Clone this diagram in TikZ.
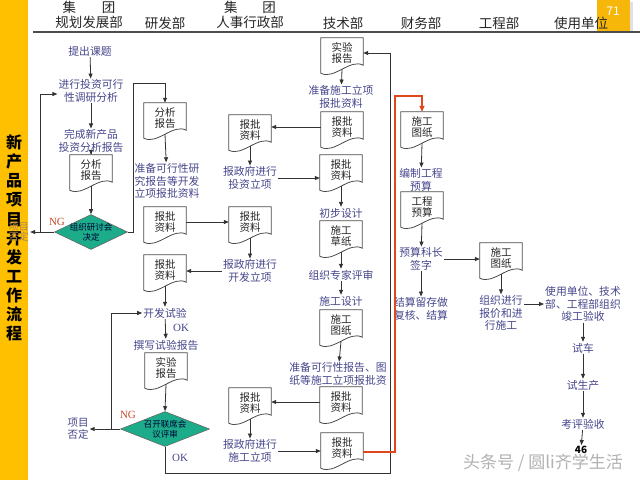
\documentclass[tikz,border=0pt]{standalone}
\usepackage{fontspec}
\setmainfont{Noto Sans CJK SC}
\newfontfamily\serfont{Liberation Serif}
\usetikzlibrary{arrows.meta,shapes.geometric,calc}
\definecolor{barY}{RGB}{255,192,0}
\definecolor{tabY}{RGB}{246,182,10}
\definecolor{txt}{RGB}{70,70,140}
\definecolor{dteal}{RGB}{28,172,138}
\definecolor{redl}{RGB}{222,72,28}
\definecolor{ngc}{RGB}{200,70,40}
\definecolor{nocol}{RGB}{175,135,80}
\newcommand\wavedoc[1]{\draw[docline] (#1.north west) -- (#1.north east) -- ([yshift=3pt]#1.south east) .. controls ([xshift=8pt,yshift=10pt]#1.south) and ([xshift=-8pt,yshift=-12pt]#1.south) .. ([yshift=-5pt]#1.south west) -- cycle;}
\begin{document}
\begin{tikzpicture}[x=1pt,y=-1pt,
 t/.style={text=txt, font=\fontsize{10.8}{12.5}\selectfont, align=center, inner sep=1pt},
 doc/.style={rectangle, minimum width=42pt, minimum height=30pt, inner sep=0pt, align=center, font=\fontsize{10.5}{11.5}\selectfont, text=black!85},
 docline/.style={draw=black!70, line width=0.8pt},
 arr/.style={draw=black!80, line width=0.8pt, -{Triangle[length=5pt,width=4pt]}},
 redarr/.style={draw=redl, line width=2pt, -{Triangle[length=6pt,width=5pt]}},
 dmd/.style={diamond, inner sep=0pt, fill=dteal, draw=black!60, line width=0.6pt},
 dtx/.style={font=\fontsize{8.5}{10}\selectfont, text=black!80!blue, align=center, inner sep=0pt},
 hd/.style={font=\fontsize{13.5}{15.5}\selectfont, text=black!85, align=center, inner sep=0pt},
 lab/.style={font=\serfont\fontsize{11}{12}\selectfont, inner sep=0pt},
]
\useasboundingbox (0,0) rectangle (640,480);
\fill[white] (0,0) rectangle (640,480);
% left bar and tab
\fill[barY] (0,0) rectangle (28,480);
\fill[black!12] (630,2) rectangle (633,33);
\fill[tabY] (597,0) rectangle (630,31);
\node[text=white, font=\fontsize{12}{12}\selectfont, inner sep=0] (pg) at (613,11) {71};
\node[font=\bfseries\fontsize{16}{19.1}\selectfont, align=center, inner sep=0] (title) at (14,238) {新\\产\\品\\项\\目\\开\\发\\工\\作\\流\\程};
% header
\node[hd] (H1) at (89,15) {集\hspace{26pt}团\\规划发展部};
\node[hd] (H2) at (165,23) {研发部};
\node[hd] (H3) at (250,15) {集\hspace{25pt}团\\人事行政部};
\node[hd] (H4) at (343,23) {技术部};
\node[hd] (H5) at (421,23) {财务部};
\node[hd] (H6) at (499,23) {工程部};
\node[hd] (H7) at (581,23) {使用单位};
\draw[black!70, line width=1.2pt] (33,32) -- (640,32);
% column A
\node[t] (A1) at (90,51) {提出课题};
\node[t] (A2) at (91,91) {进行投资可行\\性调研分析};
\node[t] (A3) at (91,141) {完成新产品\\投资分析报告};
\node[doc] (A4) at (91,170) {分析\\报告};
\node[dmd, minimum width=73pt, minimum height=35pt, label={[dtx]center:{组织研讨会\\决定}}] (A5) at (91,232) {};
\node[lab, text=ngc] (NG1) at (57,222) {NG};
\node[text=nocol, font=\fontsize{10}{10.5}\selectfont, align=center, inner sep=1pt] (N1) at (19,232) {项目\\否定};
% column B
\node[doc] (B1) at (165,118) {分析\\报告};
\node[t] (B2) at (167,181) {准备可行性研\\究报告等开发\\立项报批资料};
\node[doc] (B3) at (165,222) {报批\\资料};
\node[doc] (B4) at (165,270) {报批\\资料};
\node[t] (B5) at (165,313) {开发试验};
\node[lab, text=txt] (OK1) at (181,328) {OK};
\node[t] (B6) at (166,345) {撰写试验报告};
\node[doc] (B7) at (166,368) {实验\\报告};
\node[dmd, minimum width=89pt, minimum height=35pt, label={[dtx]center:{召开联席会\\议评审}}] (B8) at (165,429) {};
\node[lab, text=ngc] (NG2) at (128,415) {NG};
\node[t, font=\fontsize{10.5}{12}\selectfont] (N2) at (78,429) {项目\\否定};
\node[lab, text=txt] (OK2) at (180,458) {OK};
% column C
\node[doc] (C1) at (250,130) {报批\\资料};
\node[t] (C2) at (250,178) {报政府进行\\投资立项};
\node[doc] (C3) at (250,222) {报批\\资料};
\node[t] (C4) at (250,271) {报政府进行\\开发立项};
\node[doc] (C5) at (250,403) {报批\\资料};
\node[t] (C6) at (250,451) {报政府进行\\施工立项};
% column D
\node[doc] (D1) at (342,53) {实验\\报告};
\node[t] (D2) at (341,97) {准备施工立项\\报批资料};
\node[doc] (D3) at (342,127) {报批\\资料};
\node[doc] (D4) at (341,170) {报批\\资料};
\node[t] (D5) at (341,213) {初步设计};
\node[doc] (D6) at (341,236) {施工\\草纸};
\node[t] (D7) at (341,275) {组织专家评审};
\node[t] (D8) at (341,301) {施工设计};
\node[doc] (D9) at (341,325) {施工\\图纸};
\node[t] (D10) at (338,374) {准备可行性报告、图\\纸等施工立项报批资};
\node[doc] (D11) at (341,402) {报批\\资料};
\node[doc] (D12) at (342,448) {报批\\资料};
% column E
\node[doc] (E1) at (422,127) {施工\\图纸};
\node[t] (E2) at (421,180) {编制工程\\预算};
\node[doc] (E3) at (422,207) {工程\\预算};
\node[t] (E4) at (421,259) {预算科长\\签字};
\node[t] (E5) at (421,309) {结算留存做\\复核、结算};
% column F
\node[doc] (F1) at (501,258) {施工\\图纸};
\node[t] (F2) at (501,313) {组织进行\\报价和进\\行施工};
% column G
\node[t] (G1) at (583,304) {使用单位、技术\\部、工程部组织\\竣工验收};
\node[t] (G2) at (583,348) {试车};
\node[t] (G3) at (583,385) {试生产};
\node[t] (G4) at (583,424) {考评验收};
\node[font=\bfseries\fontsize{10}{10}\selectfont, inner sep=1pt] (N46) at (581,450) {46};
% document outlines
\foreach \d in {A4,B1,B3,B4,B7,C1,C3,C5,D1,D3,D4,D6,D9,D11,D12,E1,E3,F1} {\wavedoc{\d}}
% junctions
\coordinate (j1) at (40,232);
\coordinate (j2) at (133,83);
\coordinate (j3) at (111,429);
\coordinate (j4) at (390,473);
\coordinate (j5) at (395,96);
% connectors
\draw[arr] (A1) -- (A2);
\draw[arr] (A2) -- (A3);
\draw[arr] (A3) -- (A4);
\draw[arr] ([yshift=-1pt]A4.south) -- (A5.north);
\draw[arr] (A5.west) -- (N1.east);
\draw[arr] (j1) |- ([yshift=-3pt]A2.west);
\draw[arr] (A5.east) -| (j2) -| (B1.north);
\draw[arr] ([yshift=-1pt]B1.south) -- (B2);
\draw[arr] (B3) -- (C3);
\draw[arr] ([yshift=-1pt]C3.south) -- (C4);
\draw[arr] (C4.west) -- (C4.west -| B4.east);
\draw[arr] ([yshift=-1pt]B4.south) -- (B5);
\draw[arr] (B5) -- (B6);
\draw[arr] ([yshift=-1pt]B7.south) -- (B8.north);
\draw[arr] (B8.west) -- (N2.east);
\draw[arr] (j3) |- (B5.west);
\draw[arr] (B8.south) |- (j4) |- (D1.east);
\draw[arr] ([yshift=-1pt]D1.south) -- (D2);
\draw[arr] (D3.west) -- (D3.west -| C1.east);
\draw[arr] ([yshift=-1pt]C1.south) -- (C2);
\draw[arr] (C2.east) -- (C2.east -| D4.west);
\draw[arr] ([yshift=-1pt]D4.south) -- (D5);
\draw[arr] ([yshift=-1pt]D6.south) -- (D7);
\draw[arr] (D7) -- (D8);
\draw[arr] ([yshift=-1pt]D9.south) -- (D10);
\draw[arr] (D11.west) -- (D11.west -| C5.east);
\draw[arr] ([yshift=-1pt]C5.south) -- (C6);
\draw[arr] (C6.east) -- (C6.east -| D12.west);
\draw[redarr] ([yshift=-4pt]D12.east) -| (j5) -| (E1.north);
\draw[arr] ([yshift=-1pt]E1.south) -- (E2);
\draw[arr] ([yshift=-1pt]E3.south) -- (E4);
\draw[arr] (E4) -- (E5);
\draw[arr] (E4.east) -- (E4.east -| F1.west);
\draw[arr] ([yshift=-1pt]F1.south) -- (F2);
\draw[arr] (G1.west -| F2.east) -- (G1.west);
\draw[arr] (G1) -- (G2);
\draw[arr] (G2) -- (G3);
\draw[arr] (G3) -- (G4);
\draw[arr] (G4) -- (N46);
% watermark
\node[text=black!30, font=\fontsize{17}{17}\selectfont, inner sep=0] (W) at (543,463) {头条号 / 圆li齐学生活};
\end{tikzpicture}
\end{document}
